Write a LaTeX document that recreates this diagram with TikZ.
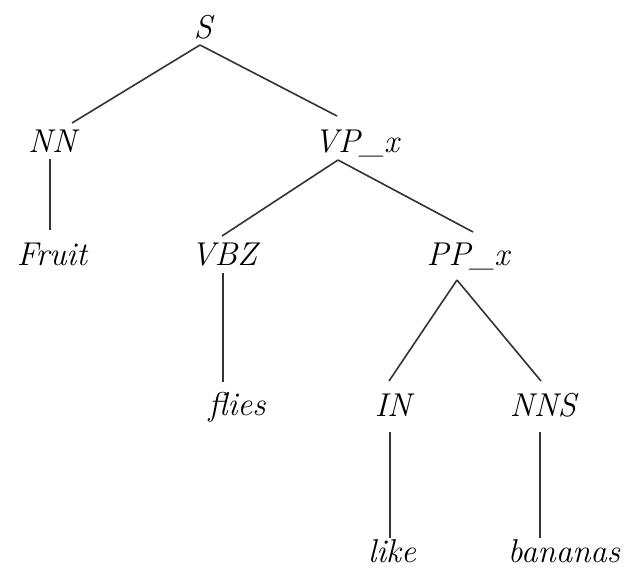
\documentclass[tikz,border=0pt]{standalone}
\begin{document}
\begin{tikzpicture}[x=1pt,y=-1pt,
  lbl/.style={anchor=base,inner sep=0pt,font=\fontsize{33}{38}\selectfont\itshape},
  edge/.style={line width=1.6pt,draw=black!80}]
\useasboundingbox (0,0) rectangle (626,568);
\node[lbl] (S) at (203,38) {S};
\node[lbl] (NN) at (52,152) {NN};
\node[lbl] (VP) at (356.5,152) {VP\_x};
\node[lbl] (Fruit) at (52,265) {Fruit};
\node[lbl] (VBZ) at (224,265) {VBZ};
\node[lbl] (PP) at (468,265) {PP\_x};
\node[lbl] (flies) at (237,415) {flies};
\node[lbl] (IN) at (393,416) {IN};
\node[lbl] (NNS) at (543,416) {NNS};
\node[lbl] (like) at (392,562) {like};
\node[lbl] (bananas) at (564,562) {bananas};

\draw[edge] ([shift={(-3,7)}]S.base) -- ([shift={(20,-29)}]NN.base);
\draw[edge] ([shift={(-3,7)}]S.base) -- ([shift={(-19.5,-36)}]VP.base);
\draw[edge] ([shift={(-2,7)}]NN.base) -- ([shift={(-2,-35)}]Fruit.base);
\draw[edge] ([shift={(-18.5,8)}]VP.base) -- ([shift={(-2,-29)}]VBZ.base);
\draw[edge] ([shift={(-18.5,8)}]VP.base) -- ([shift={(5,-33)}]PP.base);
\draw[edge] ([shift={(-1,8)}]VBZ.base) -- ([shift={(-14,-33)}]flies.base);
\draw[edge] ([shift={(-11,15)}]PP.base) -- ([shift={(-4,-35)}]IN.base);
\draw[edge] ([shift={(-11,15)}]PP.base) -- ([shift={(-2,-35)}]NNS.base);
\draw[edge] ([shift={(-3,16)}]IN.base) -- ([shift={(-2,-24)}]like.base);
\draw[edge] ([shift={(-3,16)}]NNS.base) -- ([shift={(-24,-24)}]bananas.base);
\end{tikzpicture}
\end{document}
